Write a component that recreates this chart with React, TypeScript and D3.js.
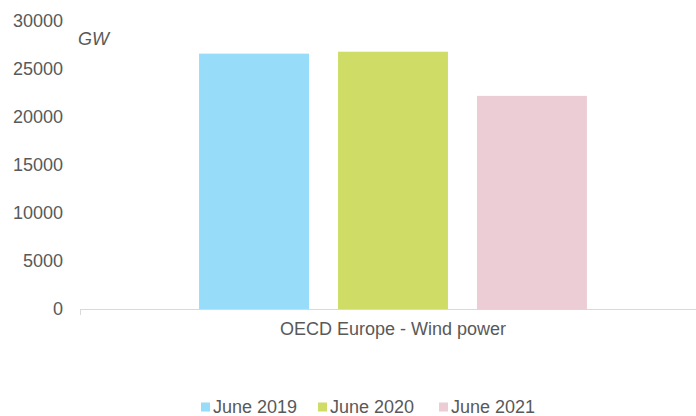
import React, { useEffect, useRef } from 'react'
import * as d3 from 'd3'

const categories = ['OECD Europe - Wind power']
const seriesNames = ['June 2019', 'June 2020', 'June 2021']
const seriesValues = [26600, 26800, 22200]
const seriesColors = ['#97dcf8', '#cfdd66', '#eccdd6']
const yTicks = [0, 5000, 10000, 15000, 20000, 25000, 30000]
const unitLabel = 'GW'

const App: React.FC = () => {
    const chartRef = useRef<SVGSVGElement | null>(null)

    useEffect(() => {
        if (!chartRef.current) return
        const width = 696
        const height = 416
        const font = 'Arial, "Liberation Sans", sans-serif'
        const textColor = '#595959'
        const fontSize = '18px'

        const svg = d3.select(chartRef.current)
        svg.selectAll('*').remove()
        svg.attr('width', width).attr('height', height)

        const y = d3.scaleLinear()
            .domain([0, 30000])
            .range([309, 21])

        const x0 = d3.scaleBand()
            .domain(categories)
            .range([80, 706])
            .paddingOuter(0.307)

        const x1 = d3.scaleBand()
            .domain(seriesNames)
            .range([0, x0.bandwidth()])
            .paddingInner(0.209)

        // bars
        const group = svg.append('g')
            .selectAll('g')
            .data(categories)
            .join('g')
            .attr('transform', d => `translate(${x0(d)},0)`)

        group.selectAll('rect')
            .data(seriesNames.map((s, i) => ({ s, v: seriesValues[i], c: seriesColors[i] })))
            .join('rect')
            .attr('x', d => x1(d.s) as number)
            .attr('y', d => y(d.v))
            .attr('width', x1.bandwidth())
            .attr('height', d => y(0) - y(d.v))
            .attr('fill', d => d.c)

        // y axis labels
        svg.append('g')
            .selectAll('text')
            .data(yTicks)
            .join('text')
            .attr('x', 63)
            .attr('y', d => y(d))
            .attr('dy', '0.35em')
            .attr('text-anchor', 'end')
            .attr('fill', textColor)
            .attr('font-size', fontSize)
            .attr('font-family', font)
            .text(d => d)

        // x axis line
        svg.append('line')
            .attr('x1', 80).attr('x2', width)
            .attr('y1', y(0) + 0.5).attr('y2', y(0) + 0.5)
            .attr('stroke', '#d9d9d9')
        svg.append('line')
            .attr('x1', 80.5).attr('x2', 80.5)
            .attr('y1', y(0)).attr('y2', y(0) + 6)
            .attr('stroke', '#d9d9d9')

        svg.append('text')
            .attr('x', (x0(categories[0]) as number) + x0.bandwidth() / 2)
            .attr('y', 335)
            .attr('text-anchor', 'middle')
            .attr('fill', textColor)
            .attr('font-size', fontSize)
            .attr('font-family', font)
            .text(categories[0])

        // unit
        svg.append('text')
            .attr('x', 78)
            .attr('y', 45)
            .attr('fill', textColor)
            .attr('font-size', fontSize)
            .attr('font-style', 'italic')
            .attr('font-family', font)
            .text(unitLabel)

        // legend
        const legendX = [201, 318, 439]
        const legend = svg.append('g')
            .selectAll('g')
            .data(seriesNames)
            .join('g')
            .attr('transform', (d, i) => `translate(${legendX[i]},407)`)
        legend.append('rect')
            .attr('x', 0).attr('y', -4.5)
            .attr('width', 9).attr('height', 9)
            .attr('fill', (d, i) => seriesColors[i])
        legend.append('text')
            .attr('x', 12)
            .attr('dy', '0.35em')
            .attr('fill', textColor)
            .attr('font-size', fontSize)
            .attr('font-family', font)
            .text(d => d)
    }, [])

    return <svg ref={chartRef} style={{ position: 'absolute', left: 0, top: 0, background: '#fff' }}></svg>
}

export default App
